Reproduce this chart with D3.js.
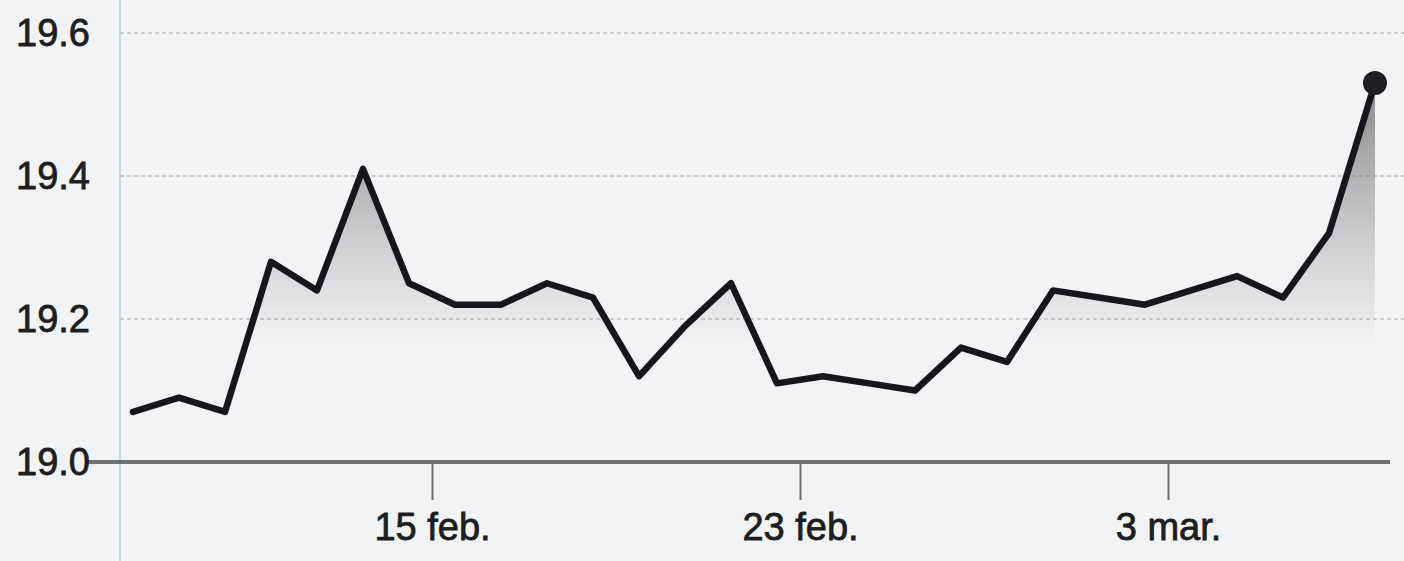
<!DOCTYPE html>
<html>
<head>
<meta charset="utf-8">
<script src="https://cdn.jsdelivr.net/npm/d3@7"></script>
<style>
  html, body { margin: 0; padding: 0; background: #f2f3f5; }
  svg { display: block; }
</style>
</head>
<body>
<div id="chart"></div>
<script>
// Daily values, 8 feb - 7 mar
const dates = [
    "2019-02-08", "2019-02-09", "2019-02-10", "2019-02-11", "2019-02-12", "2019-02-13", "2019-02-14",
    "2019-02-15", "2019-02-16", "2019-02-17", "2019-02-18", "2019-02-19", "2019-02-20", "2019-02-21",
    "2019-02-22", "2019-02-23", "2019-02-24", "2019-02-25", "2019-02-26", "2019-02-27", "2019-02-28",
    "2019-03-01", "2019-03-02", "2019-03-03", "2019-03-04", "2019-03-05", "2019-03-06", "2019-03-07"
];
const values = [
    19.07, 19.09, 19.07, 19.28, 19.24, 19.41, 19.25,
    19.22, 19.22, 19.25, 19.23, 19.12, 19.19, 19.25,
    19.11, 19.12, 19.11, 19.10, 19.16, 19.14, 19.24,
    19.23, 19.22, 19.24, 19.26, 19.23, 19.32, 19.53
];
const yTicks = [19.0, 19.2, 19.4, 19.6];
const yTickLabels = ["19.0", "19.2", "19.4", "19.6"];
const xTicks = ["2019-02-15", "2019-02-23", "2019-03-03"];
const xTickLabels = ["15 feb.", "23 feb.", "3 mar."];

const parseDay = d3.timeParse("%Y-%m-%d");
// points sit at midday
const data = dates.map((d, i) => ({
    date: d3.timeHour.offset(parseDay(d), 12),
    value: values[i]
}));

const width = 1404;
const height = 561;
const fontFamily = "'Liberation Sans', Arial, Helvetica, sans-serif";

const svg = d3.select("#chart")
    .append("svg")
    .attr("width", width)
    .attr("height", height)
    .attr("viewBox", `0 0 ${width} ${height}`);

svg.append("rect")
    .attr("width", width)
    .attr("height", height)
    .attr("fill", "#f2f3f5");

// Scales
const x = d3.scaleTime()
    .domain([new Date(2019, 1, 8, 5, 13), new Date(2019, 2, 7, 19, 50)])
    .range([120, 1390]);

const y = d3.scaleLinear()
    .domain([19.0, 19.6])
    .range([462, 33]);

// left frame line
svg.append("line")
    .attr("x1", 120).attr("x2", 120)
    .attr("y1", 0).attr("y2", height)
    .attr("stroke", "#b7d2db")
    .attr("stroke-width", 1.5);

// Gridlines
svg.append("g")
    .selectAll("line")
    .data(yTicks.filter(d => d > 19.0))
    .join("line")
    .attr("x1", 120)
    .attr("x2", width)
    .attr("y1", d => y(d))
    .attr("y2", d => y(d))
    .attr("stroke", "#a4a6a8")
    .attr("stroke-width", 1)
    .attr("stroke-dasharray", "4,3");

// Gradient fill under the line
const gradient = svg.append("defs")
    .append("linearGradient")
    .attr("id", "shade")
    .attr("gradientUnits", "userSpaceOnUse")
    .attr("x1", 0).attr("x2", 0)
    .attr("y1", y(19.55))
    .attr("y2", y(19.16));

gradient.append("stop")
    .attr("offset", "0%")
    .attr("stop-color", "#6c6c6c")
    .attr("stop-opacity", 0.85);

gradient.append("stop")
    .attr("offset", "100%")
    .attr("stop-color", "#8c8c8c")
    .attr("stop-opacity", 0);

const area = d3.area()
    .x(d => x(d.date))
    .y0(y(19.0))
    .y1(d => y(d.value));

svg.append("path")
    .datum(data)
    .attr("fill", "url(#shade)")
    .attr("d", area);

// Baseline
svg.append("line")
    .attr("x1", 85)
    .attr("x2", 1390)
    .attr("y1", y(19.0))
    .attr("y2", y(19.0))
    .attr("stroke", "#6f7072")
    .attr("stroke-width", 4);

// X axis
const xAxis = svg.append("g")
    .attr("transform", `translate(0, ${y(19.0) + 2})`)
    .call(d3.axisBottom(x)
        .tickValues(xTicks.map(parseDay))
        .tickFormat((d, i) => xTickLabels[i])
        .tickSize(36)
        .tickPadding(13));

xAxis.select(".domain").remove();
xAxis.selectAll(".tick line")
    .attr("stroke", "#6a6a6a")
    .attr("stroke-width", 2);
xAxis.selectAll(".tick text")
    .attr("fill", "#1e1e1e")
    .attr("stroke", "#1e1e1e")
    .attr("stroke-width", 0.8)
    .style("font-family", fontFamily)
    .style("font-size", "38px");

// Y axis labels
const yAxis = svg.append("g")
    .attr("transform", "translate(91, 0)")
    .call(d3.axisLeft(y)
        .tickValues(yTicks)
        .tickFormat((d, i) => yTickLabels[i])
        .tickSize(0)
        .tickPadding(1));

yAxis.select(".domain").remove();
yAxis.selectAll(".tick text")
    .attr("fill", "#1e1e1e")
    .attr("stroke", "#1e1e1e")
    .attr("stroke-width", 0.8)
    .style("font-family", fontFamily)
    .style("font-size", "38px");

// Line
const line = d3.line()
    .x(d => x(d.date))
    .y(d => y(d.value));

svg.append("path")
    .datum(data)
    .attr("fill", "none")
    .attr("stroke", "#16171c")
    .attr("stroke-width", 6.5)
    .attr("stroke-linejoin", "round")
    .attr("stroke-linecap", "round")
    .attr("d", line);

// End dot
const last = data[data.length - 1];
svg.append("circle")
    .attr("cx", x(last.date))
    .attr("cy", y(last.value))
    .attr("r", 12)
    .attr("fill", "#1e1f24");
</script>
</body>
</html>
